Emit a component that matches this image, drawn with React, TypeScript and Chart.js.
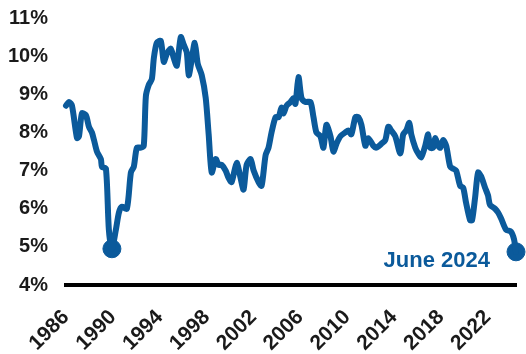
import React, { useEffect, useRef } from "react";
import { Chart, registerables } from "chart.js";

Chart.register(...registerables);

const YEARS = [
  1986.0, 1986.26, 1986.51, 1986.94, 1987.11, 1987.36, 1987.7, 1987.96, 1988.21, 1988.39,
  1988.64, 1988.98, 1989.07, 1989.41, 1989.66, 1989.92, 1990.26, 1990.52, 1990.77, 1991.2,
  1991.54, 1991.79, 1992.05, 1992.39, 1992.64, 1992.82, 1993.07, 1993.33, 1993.5, 1993.75,
  1994.09, 1994.35, 1994.6, 1994.94, 1995.2, 1995.46, 1995.8, 1996.05, 1996.31, 1996.48,
  1996.73, 1996.99, 1997.25, 1997.59, 1997.93, 1998.18, 1998.44, 1998.78, 1999.03, 1999.29,
  1999.63, 1999.89, 2000.14, 2000.57, 2000.91, 2001.16, 2001.42, 2001.76, 2002.02, 2002.44,
  2002.7, 2003.04, 2003.29, 2003.55, 2003.89, 2004.15, 2004.4, 2004.57, 2004.83, 2005.17,
  2005.42, 2005.59, 2005.85, 2006.11, 2006.45, 2006.87, 2007.13, 2007.38, 2007.72, 2007.98,
  2008.23, 2008.58, 2008.83, 2009.09, 2009.43, 2009.85, 2010.11, 2010.36, 2010.71, 2010.96,
  2011.22, 2011.56, 2011.81, 2012.24, 2012.49, 2012.92, 2013.26, 2013.52, 2013.77, 2014.11,
  2014.54, 2014.79, 2015.05, 2015.31, 2015.48, 2015.82, 2016.07, 2016.33, 2016.67, 2016.92,
  2017.09, 2017.35, 2017.52, 2017.78, 2017.95, 2018.2, 2018.46, 2018.8, 2019.05, 2019.31,
  2019.65, 2019.91, 2020.16, 2020.5, 2020.67, 2020.93, 2021.18, 2021.44, 2021.78, 2022.03,
  2022.2, 2022.63, 2022.89, 2023.14, 2023.57, 2023.99, 2024.25, 2024.42,
];

const RATES = [
  8.7, 8.8, 8.7, 7.85, 7.9, 8.5, 8.45, 8.15, 8.0, 7.8,
  7.5, 7.3, 7.1, 7.05, 5.45, 4.95, 5.45, 5.9, 6.05, 6.0,
  6.95, 7.1, 7.6, 7.6, 7.65, 8.95, 9.25, 9.4, 9.95, 10.35,
  10.4, 9.85, 10.05, 10.2, 9.95, 9.75, 10.5, 10.3, 10.1, 9.5,
  9.9, 10.35, 9.8, 9.5, 8.9, 7.95, 6.95, 7.3, 7.15, 7.15,
  7.0, 6.8, 6.7, 7.2, 6.8, 6.5, 7.15, 7.3, 7.0, 6.7,
  6.6, 7.4, 7.6, 8.0, 8.4, 8.4, 8.65, 8.5, 8.7, 8.8,
  8.9, 8.75, 9.45, 8.9, 8.8, 8.8, 8.4, 8.0, 7.9, 7.6,
  8.2, 7.9, 7.5, 7.7, 7.9, 8.0, 8.05, 7.95, 8.4, 8.4,
  8.2, 7.65, 7.85, 7.65, 7.6, 7.7, 7.8, 8.15, 8.05, 7.9,
  7.45, 7.95, 8.05, 8.25, 7.95, 7.6, 7.45, 7.35, 7.65, 7.95,
  7.6, 7.6, 7.85, 7.65, 7.6, 7.8, 7.65, 7.1, 7.05, 7.0,
  6.6, 6.55, 6.15, 5.7, 5.7, 6.3, 6.95, 6.85, 6.55, 6.35,
  6.1, 6.0, 5.9, 5.75, 5.45, 5.4, 5.2, 4.87,
];

const X_TICKS = [1986, 1990, 1994, 1998, 2002, 2006, 2010, 2014, 2018, 2022];
const Y_TICKS = [4, 5, 6, 7, 8, 9, 10, 11];
const HIGHLIGHT_YEARS = [1989.92, 2024.42];
const ANNOTATION = "June 2024";

const BLUE = "#0B5A9B";
const FONT = "'Liberation Sans', Arial, sans-serif";

export default function App() {
  const canvasRef = useRef<HTMLCanvasElement | null>(null);

  useEffect(() => {
    const canvas = canvasRef.current;
    if (!canvas) return;

    const lineData = YEARS.map((x, i) => ({ x, y: RATES[i] }));
    const markerData = HIGHLIGHT_YEARS.map((yr) => {
      const i = YEARS.indexOf(yr);
      return { x: YEARS[i], y: RATES[i] };
    });

    const annotationPlugin = {
      id: "annotationText",
      afterDatasetsDraw(chart: any) {
        const meta = chart.getDatasetMeta(1);
        const pt = meta.data[meta.data.length - 1];
        if (!pt) return;
        const ctx = chart.ctx;
        ctx.save();
        ctx.font = `bold 22px ${FONT}`;
        ctx.fillStyle = BLUE;
        ctx.textAlign = "right";
        ctx.textBaseline = "alphabetic";
        ctx.fillText(ANNOTATION, pt.x - 26, pt.y + 15);
        ctx.restore();
      },
    };

    const chart = new Chart(canvas, {
      type: "line",
      data: {
        datasets: [
          {
            data: lineData,
            borderColor: BLUE,
            borderWidth: 6,
            pointRadius: 0,
            tension: 0.25,
            borderJoinStyle: "round",
            borderCapStyle: "round",
            fill: false,
            clip: false as any,
          },
          {
            type: "scatter" as any,
            data: markerData,
            backgroundColor: BLUE,
            borderColor: BLUE,
            pointRadius: 9,
            pointHoverRadius: 9,
            showLine: false,
            clip: false as any,
          },
        ],
      },
      options: {
        animation: false,
        responsive: true,
        maintainAspectRatio: false,
        layout: { padding: { top: 18, right: 8, left: 0, bottom: 0 } },
        plugins: { legend: { display: false }, tooltip: { enabled: false } },
        scales: {
          x: {
            type: "linear",
            min: YEARS[0],
            max: YEARS[YEARS.length - 1],
            grid: { display: false, drawTicks: false },
            border: { display: true, color: "#000", width: 4 },
            afterBuildTicks: (scale: any) => {
              scale.ticks = X_TICKS.map((v) => ({ value: v }));
            },
            afterFit: (scale: any) => {
              scale.height = 69;
              scale.paddingLeft = 0;
              scale.paddingRight = 0;
            },
            ticks: {
              autoSkip: false,
              minRotation: 45,
              maxRotation: 45,
              padding: 20,
              color: "#1a1a1a",
              font: { family: FONT, size: 21, weight: "bold" },
              callback: (v: any) => String(v),
            },
          },
          y: {
            type: "linear",
            min: 4,
            max: 11,
            grid: { display: false, drawTicks: false },
            border: { display: false },
            afterBuildTicks: (scale: any) => {
              scale.ticks = Y_TICKS.map((v) => ({ value: v }));
            },
            afterFit: (scale: any) => {
              scale.width = 66;
              scale.paddingTop = 0;
              scale.paddingBottom = 0;
            },
            ticks: {
              padding: 18,
              color: "#1a1a1a",
              font: { family: FONT, size: 20, weight: "bold" },
              callback: (v: any) => `${v}%`,
            },
          },
        },
      },
      plugins: [annotationPlugin],
    });

    return () => chart.destroy();
  }, []);

  return (
    <div style={{ position: "fixed", left: 0, top: 0, width: 526, height: 354, background: "#fff" }}>
      <canvas ref={canvasRef} />
    </div>
  );
}
